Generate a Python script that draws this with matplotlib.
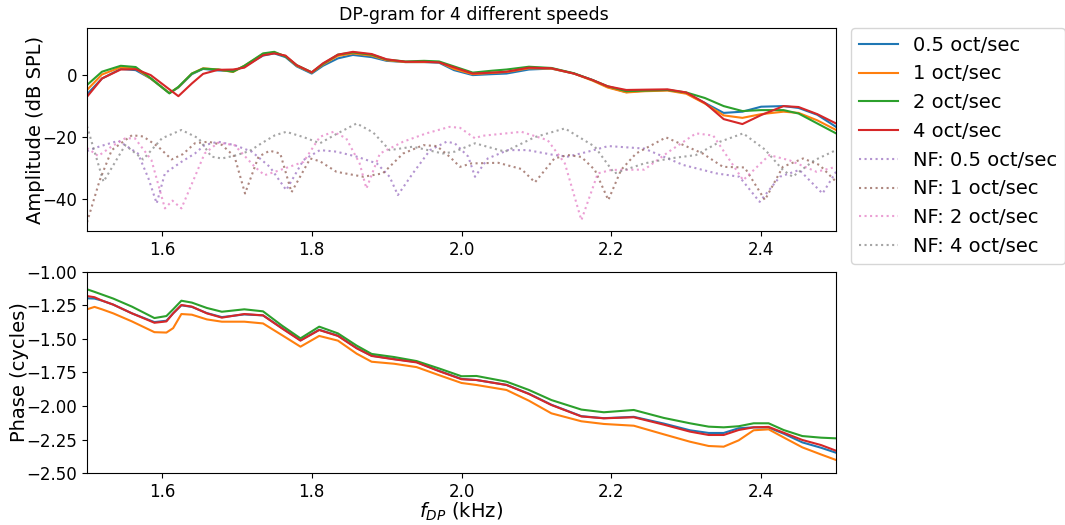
import matplotlib
matplotlib.use("Agg")
import matplotlib.pyplot as plt

# 扫频速度标签
speed_labels = ['0.5 oct/sec', '1 oct/sec', '2 oct/sec', '4 oct/sec']
nf_labels = ['NF: 0.5 oct/sec', 'NF: 1 oct/sec', 'NF: 2 oct/sec', 'NF: 4 oct/sec']

# 幅值 (dB SPL)
amp_freq = [1.50, 1.52, 1.545, 1.565, 1.585, 1.61, 1.622, 1.64, 1.655, 1.675,
            1.695, 1.71, 1.735, 1.75, 1.765, 1.78, 1.80, 1.815, 1.835, 1.855,
            1.88, 1.90, 1.925, 1.95, 1.97, 1.99, 2.015, 2.04, 2.06, 2.09,
            2.12, 2.15, 2.175, 2.195, 2.22, 2.245, 2.275, 2.30, 2.325, 2.35,
            2.375, 2.40, 2.43, 2.45, 2.475, 2.50]
amp_05 = [-6.2, -1.1, 2.0, 1.6, -1.1, -5.8, -4.0, 0.3, 2.0, 1.5,
          1.3, 2.8, 6.3, 7.0, 5.8, 2.8, 0.5, 3.0, 5.4, 6.5,
          5.8, 4.6, 4.2, 4.2, 4.0, 1.6, 0.0, 0.3, 0.5, 1.8,
          2.1, 0.5, -1.6, -3.8, -5.5, -5.0, -4.8, -5.8, -9.0, -12.2,
          -11.8, -10.2, -10.0, -10.6, -12.8, -16.7]
amp_1 = [-4.8, 0.2, 2.5, 2.1, -1.1, -5.8, -3.9, 0.5, 2.2, 1.8,
         1.0, 3.0, 6.8, 7.3, 6.1, 3.0, 0.8, 3.4, 6.2, 7.0,
         6.3, 4.8, 4.2, 4.2, 4.2, 2.0, 0.3, 0.7, 1.0, 2.2,
         2.1, 0.5, -1.8, -4.0, -5.6, -5.2, -5.0, -6.0, -9.2, -13.0,
         -13.8, -12.6, -11.8, -12.2, -14.6, -17.7]
amp_2 = [-3.2, 1.1, 3.0, 2.6, -1.0, -5.9, -3.8, 0.5, 2.1, 1.8,
         1.1, 3.0, 7.0, 7.5, 6.0, 3.2, 0.9, 3.6, 6.6, 7.3,
         6.6, 5.0, 4.4, 4.6, 4.4, 2.8, 0.8, 1.4, 1.8, 2.7,
         2.3, 0.6, -1.6, -3.6, -5.2, -5.0, -4.8, -5.6, -7.4, -10.0,
         -11.6, -11.3, -11.3, -12.4, -15.6, -18.8]
amp_4 = [-7.0, -1.1, 1.8, 1.9, 0.0, -4.6, -6.8, -2.7, 0.4, 1.7,
         1.8, 2.4, 6.4, 7.0, 6.3, 3.2, 0.9, 3.8, 6.6, 7.5,
         6.8, 5.1, 4.3, 4.3, 4.1, 2.5, 0.5, 0.8, 1.1, 2.4,
         2.2, 0.5, -1.6, -3.6, -4.8, -4.7, -4.6, -5.6, -9.0, -14.2,
         -15.8, -12.9, -10.0, -10.3, -12.6, -15.6]

# 噪声底 (NF)
nf05_freq = [1.500, 1.517, 1.542, 1.568, 1.582, 1.593, 1.604, 1.626, 1.644, 1.657,
             1.675, 1.697, 1.720, 1.744, 1.766, 1.789, 1.811, 1.833, 1.860, 1.887,
             1.904, 1.915, 1.935, 1.958, 1.980, 1.991, 2.009, 2.018, 2.035, 2.062,
             2.088, 2.124, 2.142, 2.169, 2.196, 2.244, 2.296, 2.340, 2.371, 2.398,
             2.425, 2.451, 2.482, 2.500]
nf05_amp = [-24.5, -23.0, -21.2, -25.3, -33.3, -41.4, -31.7, -28.0, -25.3, -22.6,
            -21.5, -22.6, -24.7, -29.6, -37.1, -27.4, -24.2, -24.7, -26.3, -28.5,
            -32.8, -38.7, -31.7, -24.2, -21.5, -22.0, -26.3, -32.8, -26.9, -24.2,
            -24.2, -25.8, -26.3, -24.7, -22.9, -23.7, -29.0, -31.7, -32.8, -40.9,
            -32.8, -30.6, -38.2, -31.2]
nf1_freq = [1.500, 1.517, 1.533, 1.560, 1.575, 1.595, 1.613, 1.628, 1.644, 1.662,
            1.680, 1.697, 1.711, 1.729, 1.744, 1.758, 1.773, 1.798, 1.811, 1.833,
            1.869, 1.895, 1.922, 1.949, 1.967, 1.984, 1.998, 2.013, 2.049, 2.080,
            2.098, 2.124, 2.142, 2.160, 2.178, 2.196, 2.213, 2.233, 2.273, 2.322,
            2.349, 2.378, 2.405, 2.429, 2.456, 2.478, 2.500]
nf1_amp = [-47.5, -33.9, -24.2, -19.4, -19.8, -23.1, -27.2, -25.5, -22.0, -21.5,
           -22.5, -26.3, -38.2, -26.3, -24.4, -25.3, -37.8, -26.9, -27.8, -31.2,
           -32.8, -31.7, -25.3, -22.6, -22.9, -26.3, -29.6, -28.5, -28.3, -30.3,
           -34.6, -26.9, -25.8, -26.4, -30.6, -40.3, -30.6, -25.3, -20.1, -25.3,
           -29.6, -29.8, -40.3, -29.6, -26.9, -29.0, -34.4]
nf2_freq = [1.500, 1.515, 1.533, 1.551, 1.564, 1.586, 1.604, 1.614, 1.626, 1.644,
            1.657, 1.675, 1.697, 1.724, 1.737, 1.751, 1.789, 1.811, 1.829, 1.846,
            1.864, 1.873, 1.891, 1.922, 1.953, 1.984, 1.998, 2.018, 2.027, 2.080,
            2.115, 2.138, 2.160, 2.182, 2.200, 2.244, 2.278, 2.313, 2.336, 2.376,
            2.411, 2.438, 2.474, 2.500]
nf2_amp = [-23.5, -26.1, -23.0, -20.4, -20.4, -27.4, -43.0, -40.5, -43.0, -32.8,
           -25.3, -21.8, -22.6, -29.6, -32.3, -31.2, -28.0, -19.9, -18.3, -20.4,
           -28.5, -36.6, -25.3, -21.5, -18.8, -16.7, -17.0, -20.4, -19.6, -18.3,
           -21.0, -28.5, -46.8, -31.7, -30.6, -30.5, -24.5, -18.8, -19.5, -33.9,
           -25.8, -27.5, -31.2, -29.6]
nf4_freq = [1.500, 1.522, 1.551, 1.575, 1.600, 1.626, 1.649, 1.666, 1.680, 1.697,
            1.717, 1.733, 1.751, 1.766, 1.789, 1.811, 1.833, 1.860, 1.882, 1.904,
            1.935, 1.975, 1.991, 2.018, 2.058, 2.098, 2.138, 2.178, 2.204, 2.244,
            2.278, 2.313, 2.345, 2.376, 2.405, 2.429, 2.442, 2.471, 2.500]
nf4_amp = [-16.5, -34.4, -22.6, -27.2, -20.4, -17.7, -20.4, -26.3, -26.9, -26.0,
           -24.5, -22.0, -19.4, -18.3, -20.0, -22.0, -19.0, -15.6, -18.5, -24.2,
           -23.1, -25.3, -24.7, -22.0, -24.7, -20.0, -17.2, -23.1, -31.7, -28.5,
           -26.9, -25.8, -21.5, -18.8, -24.0, -30.6, -32.8, -27.5, -24.2]

# 相位 (cycles)
phase_freq = [1.50, 1.51, 1.52, 1.535, 1.56, 1.59, 1.606, 1.615, 1.626, 1.64,
              1.66, 1.68, 1.71, 1.735, 1.76, 1.785, 1.81, 1.835, 1.86, 1.88,
              1.91, 1.94, 1.97, 2.00, 2.02, 2.06, 2.09, 2.12, 2.16, 2.19,
              2.23, 2.27, 2.305, 2.33, 2.35, 2.37, 2.39, 2.41, 2.43, 2.455,
              2.48, 2.50]
phase_05 = [-1.198, -1.200, -1.215, -1.245, -1.310, -1.375, -1.365, -1.310, -1.250, -1.262,
            -1.308, -1.338, -1.318, -1.325, -1.418, -1.510, -1.432, -1.476, -1.568, -1.625,
            -1.650, -1.672, -1.738, -1.798, -1.806, -1.842, -1.908, -1.990, -2.075, -2.090,
            -2.080, -2.130, -2.180, -2.200, -2.200, -2.165, -2.158, -2.160, -2.205, -2.270,
            -2.310, -2.347]
phase_1 = [-1.280, -1.262, -1.280, -1.310, -1.370, -1.450, -1.453, -1.420, -1.315, -1.320,
           -1.355, -1.372, -1.372, -1.385, -1.471, -1.558, -1.478, -1.513, -1.610, -1.670,
           -1.685, -1.710, -1.770, -1.828, -1.843, -1.880, -1.960, -2.054, -2.113, -2.133,
           -2.146, -2.210, -2.265, -2.297, -2.302, -2.255, -2.180, -2.173, -2.233, -2.307,
           -2.360, -2.401]
phase_2 = [-1.131, -1.150, -1.170, -1.200, -1.260, -1.345, -1.330, -1.280, -1.216, -1.230,
           -1.270, -1.298, -1.280, -1.295, -1.400, -1.496, -1.409, -1.459, -1.550, -1.612,
           -1.635, -1.665, -1.720, -1.778, -1.776, -1.818, -1.880, -1.955, -2.026, -2.046,
           -2.029, -2.088, -2.128, -2.153, -2.158, -2.150, -2.128, -2.128, -2.178, -2.223,
           -2.235, -2.240]
phase_4 = [-1.181, -1.190, -1.215, -1.245, -1.310, -1.380, -1.370, -1.310, -1.248, -1.260,
           -1.310, -1.342, -1.315, -1.325, -1.421, -1.513, -1.434, -1.478, -1.570, -1.627,
           -1.652, -1.675, -1.740, -1.800, -1.806, -1.843, -1.910, -1.992, -2.077, -2.091,
           -2.083, -2.138, -2.190, -2.215, -2.215, -2.178, -2.158, -2.155, -2.198, -2.252,
           -2.290, -2.332]


def plot_dpgram():
    fig = plt.figure(figsize=(10.65, 5.25), dpi=100)
    ax_amp = fig.add_axes([0.0817, 0.560, 0.7033, 0.3867])
    ax_ph = fig.add_axes([0.0817, 0.0985, 0.7033, 0.384])

    amps = [amp_05, amp_1, amp_2, amp_4]
    phases = [phase_05, phase_1, phase_2, phase_4]
    nf_data = [(nf05_freq, nf05_amp), (nf1_freq, nf1_amp),
               (nf2_freq, nf2_amp), (nf4_freq, nf4_amp)]

    # 幅值图
    for i, label in enumerate(speed_labels):
        ax_amp.plot(amp_freq, amps[i], color='C%d' % i, lw=1.5, label=label)
    for i, label in enumerate(nf_labels):
        f, a = nf_data[i]
        ax_amp.plot(f, a, color='C%d' % (i + 4), ls=':', lw=1.5, alpha=0.7, label=label)
    ax_amp.set_xlim(1.5, 2.5)
    ax_amp.set_ylim(-50.3, 15.2)
    ax_amp.set_ylabel('Amplitude (dB SPL)', fontsize=14, labelpad=-2)
    ax_amp.set_title('DP-gram for 4 different speeds', fontsize=12.5, x=0.517)
    ax_amp.tick_params(labelsize=12)
    ax_amp.legend(loc='upper left', bbox_to_anchor=(1.02, 1.0), borderaxespad=0,
                  fontsize=14)

    # 相位图
    for i in range(4):
        ax_ph.plot(phase_freq, phases[i], color='C%d' % i, lw=1.5)
    ax_ph.set_xlim(1.5, 2.5)
    ax_ph.set_ylim(-2.5, -1.0)
    ax_ph.set_ylabel('Phase (cycles)', fontsize=14, labelpad=-2)
    ax_ph.set_xlabel('$f_{DP}$ (kHz)', fontsize=14, labelpad=0)
    ax_ph.tick_params(labelsize=12)

    fig.savefig('out.png', dpi=100)


if __name__ == "__main__":
    plot_dpgram()
